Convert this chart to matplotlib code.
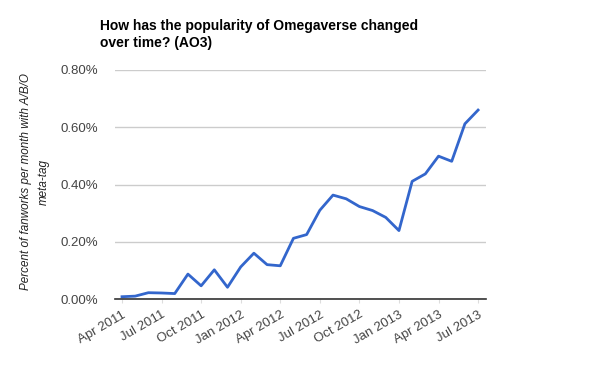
import matplotlib.pyplot as plt
from matplotlib.ticker import FuncFormatter

plt.rcParams["font.family"] = ["Liberation Sans", "DejaVu Sans"]

# monthly values, Apr 2011 .. Jul 2013 (percent)
months = list(range(28))
percent = [0.008, 0.010, 0.022, 0.021, 0.019, 0.087, 0.046, 0.102, 0.041, 0.112,
           0.160, 0.120, 0.116, 0.212, 0.225, 0.310, 0.363, 0.350, 0.323, 0.309,
           0.285, 0.239, 0.411, 0.437, 0.499, 0.481, 0.612, 0.660]
tick_pos = [0, 3, 6, 9, 12, 15, 18, 21, 24, 27]
tick_labels = ["Apr 2011", "Jul 2011", "Oct 2011", "Jan 2012", "Apr 2012",
               "Jul 2012", "Oct 2012", "Jan 2013", "Apr 2013", "Jul 2013"]
y_ticks = [0.0, 0.2, 0.4, 0.6, 0.8]

fig = plt.figure(figsize=(6, 3.71), dpi=100)
ax = fig.add_axes([115 / 600, 1 - 299 / 371, 371 / 600, 229 / 371])

ax.plot(months, percent, color="#3366cc", linewidth=2, solid_joinstyle="round")

ax.set_ylim(0, 0.8)
ax.set_xlim(-0.53, 27.6)
ax.set_yticks(y_ticks)
ax.yaxis.set_major_formatter(FuncFormatter(lambda v, p: f"{v:.2f}%"))
ax.set_xticks(tick_pos)
ax.set_xticklabels(tick_labels, rotation=30, ha="right", rotation_mode="anchor")

ax.grid(axis="y", color="#cccccc", linewidth=1)
ax.set_axisbelow(True)
for s in ["top", "right", "left"]:
    ax.spines[s].set_visible(False)
ax.spines["bottom"].set_color("#333333")
ax.spines["bottom"].set_linewidth(1.2)
ax.spines["bottom"].set_zorder(3)

ax.tick_params(axis="y", length=0, pad=12, labelsize=9.5, labelcolor="#444444")
ax.tick_params(axis="x", length=3, color="#dddddd", pad=4, labelsize=9.5, labelcolor="#444444")

fig.text(35 / 600, 1 - 182 / 371, "Percent of fanworks per month with A/B/O\nmeta-tag",
         rotation=90, ha="center", va="center", multialignment="center",
         fontstyle="italic", fontsize=8.4, color="#222222", linespacing=1.6)

fig.text(100 / 600, 1 - 19 / 371, "How has the popularity of Omegaverse changed\nover time? (AO3)",
         fontsize=10, fontweight="bold", color="black", va="top", ha="left", linespacing=1.3)

fig.savefig("out.png", dpi=100)
